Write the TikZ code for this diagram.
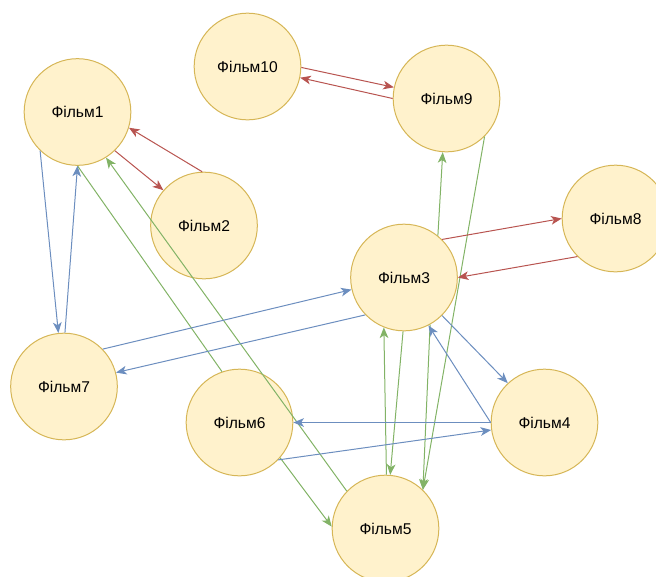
\documentclass[tikz,border=0pt]{standalone}
\usepackage{fontspec}
\setmainfont{Liberation Sans}
\usetikzlibrary{arrows.meta}
\definecolor{nfill}{HTML}{FFF2CC}
\definecolor{ndraw}{HTML}{D6B656}
\definecolor{ered}{HTML}{B85450}
\definecolor{eblue}{HTML}{6C8EBF}
\definecolor{egreen}{HTML}{82B366}
\begin{document}
\begin{tikzpicture}[x=0.75pt,y=-0.75pt,
  film/.style={circle,draw=ndraw,fill=nfill,line width=0.75pt,minimum size=80pt,inner sep=0pt,font=\fontsize{11.7}{14}\selectfont},
  link/.style={line width=0.75pt},
  arr/.style={link,-{Stealth[length=8pt,width=6.5pt,inset=2.2pt]}},
]
\useasboundingbox (0,0) rectangle (656,576);
\node[film] (n1) at (77.5,112) {Фільм1};
\node[film] (n2) at (204,225.5) {Фільм2};
\node[film] (n10) at (247.5,66.5) {Фільм10};
\node[film] (n9) at (446.5,98.5) {Фільм9};
\node[film] (n8) at (615.5,218.5) {Фільм8};
\node[film] (n3) at (404,277.5) {Фільм3};
\node[film] (n7) at (64,386.5) {Фільм7};
\node[film] (n6) at (239.5,422.5) {Фільм6};
\node[film] (n4) at (544.5,422.5) {Фільм4};
\node[film] (n5) at (385.5,528.5) {Фільм5};
% green
\begin{scope}[every path/.append style={draw=egreen}]
\draw[arr] (n3.51.5) -- (n9.266);
\draw[arr] (n9.315) -- (n5.46.4);
\draw[arr] (n3.269) -- (n5.85);
\draw[arr] (n5.89.5) -- (n3.248);
\draw[arr] (n3.299) -- (n5.46.4);
\draw[arr] (n5.136.5) -- (n1.302.5);
\draw[link] (n6.109) -- (n1.270);
\draw[arr] (n6.319.6) -- (n5.178.4);
\end{scope}
% red
\begin{scope}[every path/.append style={draw=ered}]
\draw[arr] (n1.314) -- (n2.139.8);
\draw[arr] (n2.92) -- (n1.343);
\draw[arr] (n10.359) -- (n9.168);
\draw[arr] (n9.180) -- (n10.348);
\draw[arr] (n3.45) -- (n8.180);
\draw[arr] (n8.225) -- (n3.0);
\end{scope}
% blue
\begin{scope}[every path/.append style={draw=eblue}]
\draw[arr] (n1.226) -- (n7.96.4);
\draw[arr] (n7.89) -- (n1.270);
\draw[arr] (n7.44.6) -- (n3.193);
\draw[arr] (n3.224) -- (n7.15.3);
\draw[arr] (n3.315) -- (n4.133.5);
\draw[arr] (n4.180) -- (n3.297.7);
\draw[arr] (n4.180) -- (n6.0);
\draw[arr] (n6.316.5) -- (n4.188);
\end{scope}
\end{tikzpicture}
\end{document}
